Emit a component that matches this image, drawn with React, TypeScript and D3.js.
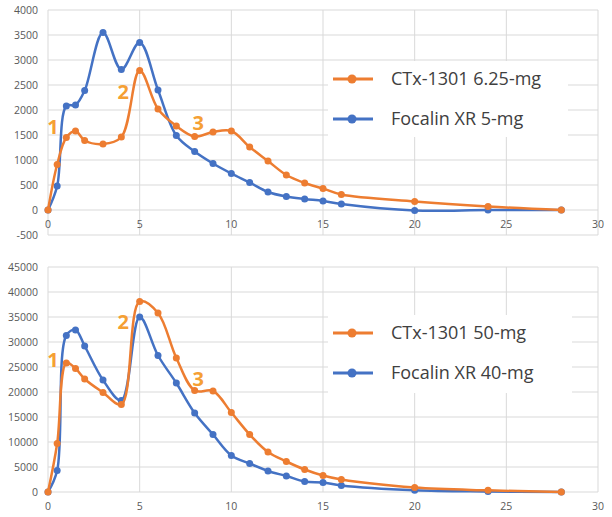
import React, { useRef, useEffect } from "react";
import * as d3 from "d3";

// time points (hours), shared by all four series
const hours = [0, 0.5, 1, 1.5, 2, 3, 4, 5, 6, 7, 8, 9, 10, 11, 12, 13, 14, 15, 16, 20, 24, 28];

// low dose panel
const ctxLow = [0, 910, 1450, 1580, 1390, 1320, 1460, 2790, 2020, 1680, 1470, 1560, 1580, 1260, 980, 700, 540, 430, 310, 170, 70, 0];
const focalinLow = [0, 480, 2080, 2100, 2390, 3550, 2810, 3350, 2400, 1490, 1170, 930, 730, 550, 360, 270, 220, 180, 120, -10, 0, 0];

// high dose panel
const ctxHigh = [0, 9700, 25800, 24700, 22600, 19900, 17500, 38100, 35800, 26800, 20300, 20200, 15900, 11500, 8000, 6100, 4500, 3300, 2500, 900, 330, 0];
const focalinHigh = [0, 4300, 31300, 32400, 29200, 22400, 18300, 35000, 27300, 21800, 15800, 11500, 7300, 5700, 4200, 3200, 2100, 1900, 1300, 350, 100, 0];

const labelsLow = ["CTx-1301 6.25-mg", "Focalin XR 5-mg"];
const labelsHigh = ["CTx-1301 50-mg", "Focalin XR 40-mg"];

// where the "1", "2", "3" callouts sit, in data units
const calloutsLow = [{ t: "1", x: 0.27, y: 1660 }, { t: "2", x: 4.1, y: 2360 }, { t: "3", x: 8.2, y: 1740 }];
const calloutsHigh = [{ t: "1", x: 0.27, y: 26400 }, { t: "2", x: 4.1, y: 34000 }, { t: "3", x: 8.2, y: 22600 }];

const ORANGE = "#ED7D31";
const BLUE = "#4472C4";
const CALLOUT = "#F5A034";

const Panel = ({ yRange, yDomain, yStep, orange, blue, labels, callouts, legendBox }) => {
    const ref = useRef(null);

    useEffect(() => {
        const g = d3.select(ref.current);
        g.selectAll("*").remove();

        const x = d3.scaleLinear().domain([0, 30]).range([48, 598]);
        const y = d3.scaleLinear().domain(yDomain).range(yRange);
        const yTicks = d3.range(yDomain[0], yDomain[1] + 1, yStep);

        // gridlines
        g.append("g")
            .selectAll("line")
            .data(yTicks)
            .join("line")
            .attr("x1", x(0))
            .attr("x2", x(30))
            .attr("y1", (d) => y(d))
            .attr("y2", (d) => y(d))
            .attr("stroke", "#d9d9d9");
        g.append("g")
            .selectAll("line")
            .data(d3.range(0, 31, 5))
            .join("line")
            .attr("x1", (d) => x(d))
            .attr("x2", (d) => x(d))
            .attr("y1", y(yDomain[0]))
            .attr("y2", y(yDomain[1]))
            .attr("stroke", "#d9d9d9");

        // tick labels
        g.append("g")
            .selectAll("text")
            .data(yTicks)
            .join("text")
            .attr("x", 38)
            .attr("y", (d) => y(d))
            .attr("dy", "0.35em")
            .attr("text-anchor", "end")
            .attr("font-size", 10.5)
            .attr("fill", "#595959")
            .text((d) => d);
        g.append("g")
            .selectAll("text")
            .data(d3.range(0, 31, 5))
            .join("text")
            .attr("x", (d) => x(d))
            .attr("y", y(0) + 14)
            .attr("dy", "0.35em")
            .attr("text-anchor", "middle")
            .attr("font-size", 10.5)
            .attr("fill", "#595959")
            .text((d) => d);

        // legend box hides the grid behind it
        g.append("rect")
            .attr("x", legendBox.x)
            .attr("y", legendBox.y)
            .attr("width", legendBox.w)
            .attr("height", legendBox.h)
            .attr("fill", "white");

        const line = d3
            .line()
            .x((d) => x(d[0]))
            .y((d) => y(d[1]))
            .curve(d3.curveCatmullRom.alpha(0.5));

        [
            [blue, BLUE],
            [orange, ORANGE],
        ].forEach(([vals, color]) => {
            const pts = hours.map((h, i) => [h, vals[i]]);
            g.append("path")
                .datum(pts)
                .attr("fill", "none")
                .attr("stroke", color)
                .attr("stroke-width", 2.5)
                .attr("d", line);
            g.append("g")
                .selectAll("circle")
                .data(pts)
                .join("circle")
                .attr("cx", (d) => x(d[0]))
                .attr("cy", (d) => y(d[1]))
                .attr("r", 3.5)
                .attr("fill", color);
        });

        // callout numbers
        g.append("g")
            .selectAll("text")
            .data(callouts)
            .join("text")
            .attr("x", (d) => x(d.x))
            .attr("y", (d) => y(d.y))
            .attr("dy", "0.35em")
            .attr("text-anchor", "middle")
            .attr("font-size", 20)
            .attr("font-weight", "bold")
            .attr("fill", CALLOUT)
            .text((d) => d.t);

        // legend
        const lg = g.append("g");
        [ORANGE, BLUE].forEach((color, i) => {
            const ly = legendBox.y + 18 + i * 40;
            lg.append("line")
                .attr("x1", legendBox.x + 5)
                .attr("x2", legendBox.x + 45)
                .attr("y1", ly)
                .attr("y2", ly)
                .attr("stroke", color)
                .attr("stroke-width", 3);
            lg.append("circle")
                .attr("cx", legendBox.x + 24)
                .attr("cy", ly)
                .attr("r", 4.5)
                .attr("fill", color);
            lg.append("text")
                .attr("x", legendBox.x + 63)
                .attr("y", ly)
                .attr("dy", "0.35em")
                .attr("font-size", 18)
                .attr("fill", "#404040")
                .text(labels[i]);
        });
    }, []);

    return <g ref={ref} />;
};

export default function App() {
    return (
        <div style={{ position: "absolute", left: 0, top: 0 }}>
            <svg width={612} height={517} style={{ fontFamily: "'Open Sans', sans-serif", display: "block" }}>
                <rect width={612} height={517} fill="white" />
                <Panel
                    yRange={[235, 10]}
                    yDomain={[-500, 4000]}
                    yStep={500}
                    orange={ctxLow}
                    blue={focalinLow}
                    labels={labelsLow}
                    callouts={calloutsLow}
                    legendBox={{ x: 328, y: 61, w: 240, h: 76 }}
                />
                <Panel
                    yRange={[492, 267]}
                    yDomain={[0, 45000]}
                    yStep={5000}
                    orange={ctxHigh}
                    blue={focalinHigh}
                    labels={labelsHigh}
                    callouts={calloutsHigh}
                    legendBox={{ x: 328, y: 315, w: 244, h: 78 }}
                />
            </svg>
        </div>
    );
}
